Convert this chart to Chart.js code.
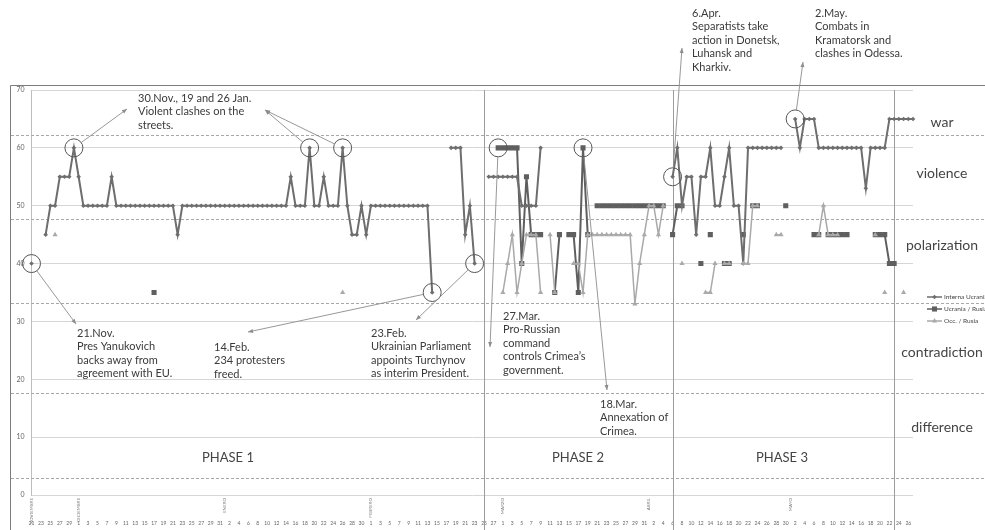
<!DOCTYPE html>
<html>
<head>
<meta charset="utf-8">
<script src="https://cdn.jsdelivr.net/npm/chart.js@4.4.1/dist/chart.umd.min.js"></script>
<style>
  html, body { margin: 0; padding: 0; background: #fff; }
  canvas { display: block; }
</style>
</head>
<body>
<canvas id="conflictChart" width="985" height="530"></canvas>
<script>
const _ = null;

// days from 21 Nov 2013 to 27 May 2014
const monthNames = ["NOVIEMBRE", "DICIEMBRE", "ENERO", "FEBRERO", "MARZO", "ABRIL", "MAYO"];
const monthFirst = [21, 1, 1, 1, 1, 1, 1];
const monthLast = [30, 31, 31, 28, 31, 30, 27];

let days = [];
let monthStart = [];
for (let m = 0; m < monthNames.length; m++) {
  monthStart.push(days.length);
  for (let d = monthFirst[m]; d <= monthLast[m]; d++) days.push(d);
}

let internaUcrania = [
  40, _, _, 45, 50, 50, 55, 55, 55, 60,
  55, 50, 50, 50, 50, 50, 50, 55, 50, 50,
  50, 50, 50, 50, 50, 50, 50, 50, 50, 50,
  50, 45, 50, 50, 50, 50, 50, 50, 50, 50,
  50, 50, 50, 50, 50, 50, 50, 50, 50, 50,
  50, 50, 50, 50, 50, 55, 50, 50, 50, 60,
  50, 50, 55, 50, 50, 50, 60, 50, 45, 45,
  50, 45, 50, 50, 50, 50, 50, 50, 50, 50,
  50, 50, 50, 50, 50, 35, _, _, _, 60,
  60, 60, 45, 50, 40, _, _, 55, 55, 55,
  55, 55, 55, 55, 50, 50, 50, 50, 60, _,
  _, _, _, _, _, _, _, _, _, _,
  _, _, _, _, _, _, _, _, _, _,
  _, _, _, _, _, _, 55, 60, 50, 55,
  55, 45, 55, 55, 60, 50, 50, 55, 60, 50,
  50, 40, 60, 60, 60, 60, 60, 60, 60, 60,
  _, _, 65, 60, 65, 65, 65, 60, 60, 60,
  60, 60, 60, 60, 60, 60, 60, 53, 60, 60,
  60, 60, 65, 65, 65, 65, 65, 65
];

let ucraniaRusia = [
  _, _, _, _, _, _, _, _, _, _,
  _, _, _, _, _, _, _, _, _, _,
  _, _, _, _, _, _, 35, _, _, _,
  _, _, _, _, _, _, _, _, _, _,
  _, _, _, _, _, _, _, _, _, _,
  _, _, _, _, _, _, _, _, _, _,
  _, _, _, _, _, _, _, _, _, _,
  _, _, _, _, _, _, _, _, _, _,
  _, _, _, _, _, _, _, _, _, _,
  _, _, _, _, _, _, _, _, _, 60,
  60, 60, 60, 60, 40, 55, 45, 45, 45, _,
  _, 35, 45, _, 45, 45, 35, 60, 45, _,
  50, 50, 50, 50, 50, 50, 50, 50, 50, 50,
  50, 50, 50, 50, 50, _, 45, 50, 50, _,
  _, _, 40, _, 45, _, _, 40, 40, _,
  _, 45, _, 50, 50, _, _, _, _, _,
  50, _, _, _, _, _, 45, 45, _, 45,
  45, 45, 45, 45, _, _, _, _, _, 45,
  45, 45, 40, 40, _, _, _, _
];

let occRusia = [
  _, _, _, _, _, 45, _, _, _, _,
  _, _, _, _, _, _, _, _, _, _,
  _, _, _, _, _, _, _, _, _, _,
  _, _, _, _, _, _, _, _, _, _,
  _, _, _, _, _, _, _, _, _, _,
  _, _, _, _, _, _, _, _, _, _,
  _, _, _, _, _, _, 35, _, _, _,
  _, _, _, _, _, _, _, _, _, _,
  _, _, _, _, _, _, _, _, _, _,
  _, _, _, _, _, _, _, _, _, _,
  35, 40, 45, 35, 40, 45, 45, 45, 35, _,
  45, 35, _, _, _, 40, 40, 35, 45, 45,
  45, 45, 45, 45, 45, 45, 45, 45, 33, 40,
  45, 50, 50, 45, 50, _, _, _, 40, _,
  _, _, _, 35, 35, 40, _, 40, 40, _,
  _, 40, 40, 50, 50, _, _, _, 45, 45,
  _, _, _, _, _, _, _, 45, 50, 45,
  45, 45, _, _, _, _, _, _, _, 45,
  _, 35, _, _, _, 35, _, _
];

// circled events (day index, value)
let eventDays = [0, 9, 59, 66, 85, 94, 99, 117, 136, 162];
let eventValues = [40, 60, 60, 60, 35, 40, 60, 60, 55, 65];

let zoneBreaks = [62.2, 47.7, 33.2, 17.6, 2.9];
let zoneNames = ["war", "violence", "polarization", "contradiction", "difference"];
let zoneLabelAt = [64.3, 55.5, 43.1, 24.7, 11.7];
let phaseBreaks = [96, 136, 183];
let phaseNames = ["PHASE 1", "PHASE 2", "PHASE 3"];

const notes = [
  { lines: ["30.Nov., 19 and 26 Jan.", "Violent clashes on the", "streets."], x: 138, y: 98 },
  { lines: ["21.Nov.", "Pres Yanukovich", "backs away from", "agreement with EU."], x: 77, y: 333 },
  { lines: ["14.Feb.", "234 protesters", "freed."], x: 214, y: 347 },
  { lines: ["23.Feb.", "Ukrainian Parliament", "appoints Turchynov", "as interim President."], x: 371, y: 333 },
  { lines: ["27.Mar.", "Pro-Russian", "command", "controls Crimea\u2019s", "government."], x: 503, y: 316 },
  { lines: ["18.Mar.", "Annexation of", "Crimea."], x: 600, y: 404 },
  { lines: ["6.Apr.", "Separatists take", "action in Donetsk,", "Luhansk and", "Kharkiv."], x: 692, y: 13 },
  { lines: ["2.May.", "Combats in", "Kramatorsk and", "clashes in Odessa."], x: 815, y: 13 }
];

// leader lines: from circled event (position in eventDays) to arrow tip
const leaders = [
  { ev: 1, tip: [127, 109] },
  { ev: 2, tip: [265, 110] },
  { ev: 3, tip: [265, 110] },
  { ev: 0, tip: [76, 324] },
  { ev: 4, tip: [248, 332] },
  { ev: 5, tip: [416, 320] },
  { ev: 6, tip: [490, 347] },
  { ev: 7, tip: [607, 390] },
  { ev: 8, tip: [682, 48] },
  { ev: 9, tip: [803, 62] }
];
const phaseLabelX = [228, 578, 782];

function arrowLine(ctx, x1, y1, x2, y2) {
  ctx.beginPath();
  ctx.moveTo(x1, y1);
  ctx.lineTo(x2, y2);
  ctx.stroke();
  let a = Math.atan2(y2 - y1, x2 - x1);
  ctx.beginPath();
  ctx.moveTo(x2, y2);
  ctx.lineTo(x2 - 5 * Math.cos(a) + 2 * Math.sin(a), y2 - 5 * Math.sin(a) - 2 * Math.cos(a));
  ctx.lineTo(x2 - 5 * Math.cos(a) - 2 * Math.sin(a), y2 - 5 * Math.sin(a) + 2 * Math.cos(a));
  ctx.closePath();
  ctx.fill();
}

const decor = {
  id: "decor",
  beforeDatasetsDraw(chart) {
    const { ctx, chartArea, scales } = chart;
    ctx.save();
    ctx.lineWidth = 1;
    ctx.strokeStyle = "#a8a8a8";
    ctx.setLineDash([3, 2]);
    zoneBreaks.forEach(v => {
      let py = Math.round(scales.y.getPixelForValue(v)) + 0.5;
      ctx.beginPath();
      ctx.moveTo(11, py);
      ctx.lineTo(985, py);
      ctx.stroke();
    });
    ctx.setLineDash([]);
    ctx.strokeStyle = "#9c9c9c";
    phaseBreaks.forEach(i => {
      let px = Math.round(scales.x.getPixelForValue(i)) + 0.5;
      ctx.beginPath();
      ctx.moveTo(px, chartArea.top);
      ctx.lineTo(px, 530);
      ctx.stroke();
    });
    ctx.strokeStyle = "#7c7c7c";
    ctx.beginPath();
    ctx.moveTo(10.5, 530);
    ctx.lineTo(10.5, 85.5);
    ctx.lineTo(985, 85.5);
    ctx.stroke();

    // month names, vertical
    ctx.fillStyle = "#777";
    ctx.font = "4.5px Lato";
    ctx.textAlign = "right";
    ctx.textBaseline = "middle";
    monthStart.forEach((i, m) => {
      ctx.save();
      ctx.translate(scales.x.getPixelForValue(i), 498);
      ctx.rotate(-Math.PI / 2);
      ctx.fillText(monthNames[m], 0, 0);
      ctx.restore();
    });

    // phase names and zone names
    ctx.fillStyle = "#444";
    ctx.textAlign = "center";
    ctx.font = "13px Lato";
    phaseNames.forEach((p, k) => ctx.fillText(p, phaseLabelX[k], 458));
    ctx.font = "14px Lato";
    zoneNames.forEach((z, k) => ctx.fillText(z, 942, scales.y.getPixelForValue(zoneLabelAt[k])));
    ctx.restore();
  },
  afterDatasetsDraw(chart) {
    const { ctx, scales } = chart;
    ctx.save();
    let centers = eventDays.map((d, k) => [scales.x.getPixelForValue(d), scales.y.getPixelForValue(eventValues[k])]);
    ctx.strokeStyle = "#555";
    ctx.lineWidth = 1;
    centers.forEach(c => {
      ctx.beginPath();
      ctx.arc(c[0], c[1], 9, 0, Math.PI * 2);
      ctx.stroke();
    });
    ctx.strokeStyle = "#8c8c8c";
    ctx.fillStyle = "#8c8c8c";
    ctx.lineWidth = 0.9;
    leaders.forEach(l => {
      let c = centers[l.ev];
      let dx = l.tip[0] - c[0], dy = l.tip[1] - c[1];
      let len = Math.hypot(dx, dy);
      arrowLine(ctx, c[0] + dx / len * 9, c[1] + dy / len * 9, l.tip[0], l.tip[1]);
    });

    ctx.fillStyle = "#3a3a3a";
    ctx.font = "11px Lato";
    ctx.textAlign = "left";
    ctx.textBaseline = "middle";
    notes.forEach(n => n.lines.forEach((t, k) => ctx.fillText(t, n.x, n.y + k * 13.5)));

    // legend
    ctx.font = "6.5px Lato";
    chart.data.datasets.forEach((ds, k) => {
      let ly = 297 + k * 12;
      ctx.strokeStyle = ds.borderColor;
      ctx.fillStyle = ds.borderColor;
      ctx.lineWidth = 1.5;
      ctx.beginPath();
      ctx.moveTo(927, ly);
      ctx.lineTo(942, ly);
      ctx.stroke();
      Chart.helpers.drawPoint(ctx, { pointStyle: ds.pointStyle, radius: ds.pointRadius, borderWidth: 0 }, 934.5, ly);
      ctx.fillStyle = "#444";
      ctx.fillText(ds.label, 944, ly);
    });
    ctx.restore();
  }
};

Chart.defaults.font.family = "Lato";

let ctx = document.getElementById("conflictChart").getContext("2d");

let myChart = new Chart(ctx, {
  type: "line",
  data: {
    labels: days,
    datasets: [
      {
        label: "Interna Ucrania",
        data: internaUcrania,
        borderColor: "#6e6e6e",
        backgroundColor: "#6e6e6e",
        borderWidth: 2,
        pointStyle: "rectRot",
        pointRadius: 2.3,
        pointBorderWidth: 0,
        order: 1
      },
      {
        label: "Ucrania / Rusia",
        data: ucraniaRusia,
        borderColor: "#5f5f5f",
        backgroundColor: "#5f5f5f",
        borderWidth: 2,
        pointStyle: "rect",
        pointRadius: 3.6,
        pointBorderWidth: 0,
        order: 2
      },
      {
        label: "Occ. / Rusia",
        data: occRusia,
        borderColor: "#a9a9a9",
        backgroundColor: "#a9a9a9",
        borderWidth: 1.5,
        pointStyle: "triangle",
        pointRadius: 3,
        pointBorderWidth: 0,
        order: 0
      }
    ]
  },
  options: {
    responsive: false,
    animation: false,
    spanGaps: false,
    layout: { padding: { left: 10.5, right: 72, top: 90, bottom: 0 } },
    plugins: {
      legend: { display: false },
      tooltip: { enabled: false }
    },
    scales: {
      x: {
        type: "category",
        offset: false,
        grid: { display: false, drawTicks: false },
        border: { display: false },
        ticks: {
          autoSkip: false,
          maxRotation: 0,
          minRotation: 0,
          padding: 25,
          color: "#666",
          font: { size: 5 },
          callback: (val, idx) => (idx % 2 === 0 ? days[idx] : "")
        },
        afterFit: s => { s.height = 35; }
      },
      y: {
        min: 0,
        max: 70,
        ticks: { stepSize: 10, padding: 7, color: "#666", font: { size: 7 } },
        grid: { color: "#d6d6d6", drawTicks: false },
        border: { display: true, color: "#bdbdbd" },
        afterFit: s => { s.width = 21; }
      }
    }
  },
  plugins: [decor]
});
</script>
</body>
</html>
